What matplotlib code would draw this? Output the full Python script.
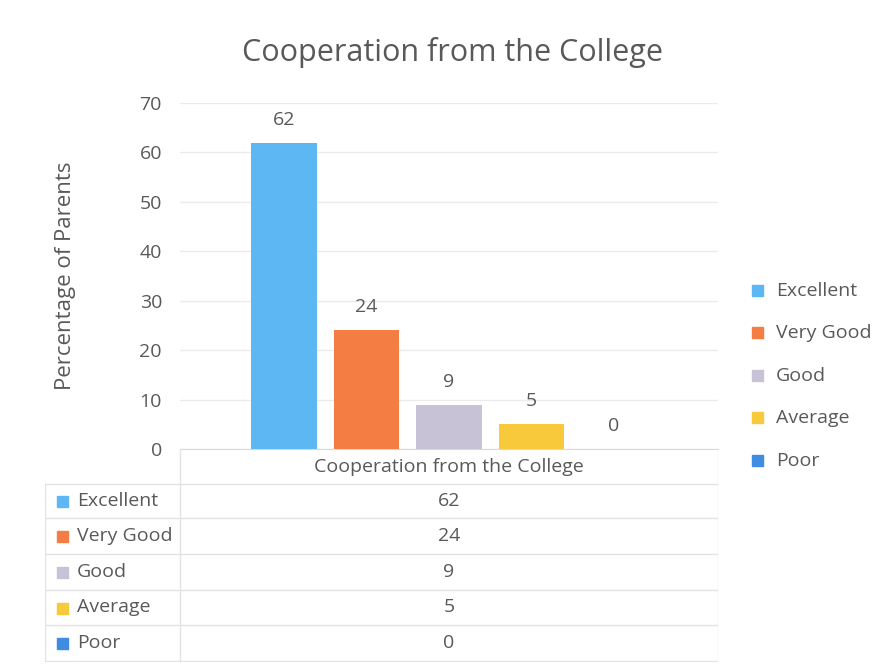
import matplotlib.pyplot as plt
import numpy as np

# -----------------------------
# Data
# -----------------------------
title = 'Cooperation from the College'
categories = ['Excellent', 'Very Good', 'Good', 'Average', 'Poor']
values = [62, 24, 9, 5, 0]
colors = ['#5DB7F2', '#F47D43', '#C8C2D6', '#F8C93A', '#3F8DE3']
y_ticks = [0, 10, 20, 30, 40, 50, 60, 70]

text_color = '#595959'
grid_color = '#EBEBEB'
plt.rcParams['font.family'] = ['Open Sans', 'DejaVu Sans']

W, H = 887, 670
fig = plt.figure(figsize=(W / 100, H / 100), dpi=100)

def px_axes(x0, y0, x1, y1):
    # axes from pixel box (top-left origin)
    return fig.add_axes([x0 / W, (H - y1) / H, (x1 - x0) / W, (y1 - y0) / H])

# -----------------------------
# Bar chart
# -----------------------------
ax = px_axes(180, 103, 718, 449)
x = np.arange(len(values))
ax.bar(x, values, width=0.79, color=colors, zorder=3)
ax.set_xlim(-1.26, 5.26)
ax.set_ylim(0, 70)
ax.set_yticks(y_ticks)
ax.set_xticks([])
ax.grid(axis='y', color=grid_color, linewidth=1, zorder=0)
for s in ['top', 'right', 'left']:
    ax.spines[s].set_visible(False)
ax.spines['bottom'].set_color('#D9D9D9')
ax.tick_params(axis='y', length=0, pad=13, labelsize=14, labelcolor=text_color)

for xi, v in zip(x, values):
    ax.annotate(str(v), (xi, v), xytext=(0, 10), textcoords='offset points',
                ha='center', va='bottom', fontsize=14, color=text_color)

ax.set_ylabel('Percentage of Parents', fontsize=16, color=text_color, labelpad=46)
fig.text(453 / W, 1 - 52 / H, title, ha='center', va='center', fontsize=22, color=text_color)

# -----------------------------
# Legend (right)
# -----------------------------
leg_y = [291, 333, 376, 418, 461]
for cat, col, yy in zip(categories, colors, leg_y):
    fig.patches.append(plt.Rectangle((752 / W, 1 - (yy + 5) / H), 11 / W, 11 / H,
                                     transform=fig.transFigure, color=col))
    fig.text(776 / W, 1 - yy / H, cat, ha='left', va='center', fontsize=14, color=text_color)

# -----------------------------
# Data table
# -----------------------------
axt = px_axes(45, 449, 718, 662)
axt.set_xlim(45, 718)
axt.set_ylim(662, 449)
axt.axis('off')
row_lines = [484, 518, 554, 590, 625, 661]
line_c = '#E3E3E3'
for yy in row_lines:
    axt.plot([45, 718], [yy, yy], color=line_c, lw=1)
axt.plot([180, 180], [449, 661], color=line_c, lw=1)
axt.plot([45, 45], [484, 661], color=line_c, lw=1)
axt.plot([718, 718], [449, 661], color=line_c, lw=1)
axt.text(449, 467, title, ha='center', va='center', fontsize=14, color=text_color)
for i, (cat, col, v) in enumerate(zip(categories, colors, values)):
    yc = (row_lines[i] + row_lines[i + 1]) / 2
    axt.add_patch(plt.Rectangle((57, yc - 5), 11, 11, color=col))
    axt.text(77, yc, cat, ha='left', va='center', fontsize=14, color=text_color)
    axt.text(449, yc, str(v), ha='center', va='center', fontsize=14, color=text_color)

fig.savefig('out.png', dpi=100)
